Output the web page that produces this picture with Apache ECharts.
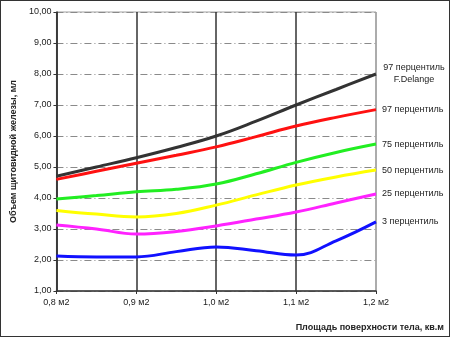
<!DOCTYPE html>
<html><head><meta charset="utf-8">
<script src="https://cdn.jsdelivr.net/npm/echarts@6/dist/echarts.min.js"></script>
<style>html,body{margin:0;padding:0;background:#fff}#c{width:450px;height:337px;box-sizing:border-box;border:1px solid #333;}</style>
</head><body><div id="c"></div>
<script>
const xs = [0.8, 0.85, 0.9, 0.95, 1.0, 1.05, 1.1, 1.15, 1.2];
const delange = [4.7, 5.0, 5.3, 5.63, 6.0, 6.48, 7.0, 7.5, 8.0];
const p97 = [4.6, 4.86, 5.12, 5.38, 5.65, 5.98, 6.32, 6.6, 6.85];
const p75 = [3.97, 4.08, 4.2, 4.28, 4.45, 4.78, 5.15, 5.47, 5.74];
const p50 = [3.6, 3.48, 3.39, 3.5, 3.77, 4.1, 4.42, 4.68, 4.9];
const p25 = [3.13, 3.0, 2.84, 2.92, 3.1, 3.32, 3.55, 3.84, 4.13];
const p3 = [2.13, 2.1, 2.1, 2.27, 2.42, 2.3, 2.16, 2.62, 3.23];
const seriesNames = ['97 перцентиль\nF.Delange', '97 перцентиль', '75 перцентиль', '50 перцентиль', '25 перцентиль', '3 перцентиль'];
const seriesColors = ['#333333', '#ff1111', '#22ee22', '#ffff00', '#ff22ff', '#1111ff'];
const xTitle = 'Площадь поверхности тела, кв.м';
const yTitle = 'Объем щитовидной железы, мл';

const font = 'Arial, "Liberation Sans", sans-serif';
const all = [delange, p97, p75, p50, p25, p3];
const chart = echarts.init(document.getElementById('c'), null, {renderer: 'canvas'});
chart.setOption({
  animation: false,
  title: {text: xTitle, right: 0, top: 317, textStyle: {fontSize: 9, fontWeight: 'bold', color: '#222', fontFamily: font}},
  grid: {left: 51, right: 73, top: 11, bottom: 45, show: true, borderColor: '#a0a0a0', borderWidth: 1},
  xAxis: {
    type: 'value', min: 0.8, max: 1.2, interval: 0.1,
    axisLine: {show: true, lineStyle: {color: '#333', width: 1.5}},
    axisTick: {show: true, length: 3, lineStyle: {color: '#333'}},
    axisLabel: {margin: 7, fontSize: 9, color: '#222', fontFamily: font,
      formatter: v => v.toFixed(1).replace('.', ',') + ' м2'},
    splitLine: {show: true, lineStyle: {color: ['#333', '#333', '#333', '#333', '#a0a0a0'], width: 1.5}}
  },
  yAxis: {
    type: 'value', min: 1, max: 10, interval: 1,
    name: yTitle, nameLocation: 'middle', nameGap: 37,
    nameTextStyle: {fontSize: 9, fontWeight: 'bold', color: '#222', fontFamily: font},
    axisLine: {show: true, lineStyle: {color: '#333', width: 1.5}},
    axisTick: {show: true, length: 3, lineStyle: {color: '#333'}},
    axisLabel: {margin: 5, fontSize: 9, color: '#222', fontFamily: font,
      formatter: v => v.toFixed(2).replace('.', ',')},
    splitLine: {show: true, lineStyle: {color: '#8a8a8a', width: 1, type: [7, 3, 1, 3]}}
  },
  series: all.map((arr, i) => ({
    type: 'line', name: seriesNames[i], smooth: 0.4, showSymbol: false,
    data: xs.map((x, j) => [x, arr[j]]),
    lineStyle: {color: seriesColors[i], width: 3},
    itemStyle: {color: seriesColors[i]},
    endLabel: {show: true, formatter: seriesNames[i], fontSize: 9, color: '#222', fontFamily: font,
      distance: i === 0 ? 38 : 6, align: i === 0 ? 'center' : 'left', lineHeight: 12}
  }))
});
</script></body></html>
